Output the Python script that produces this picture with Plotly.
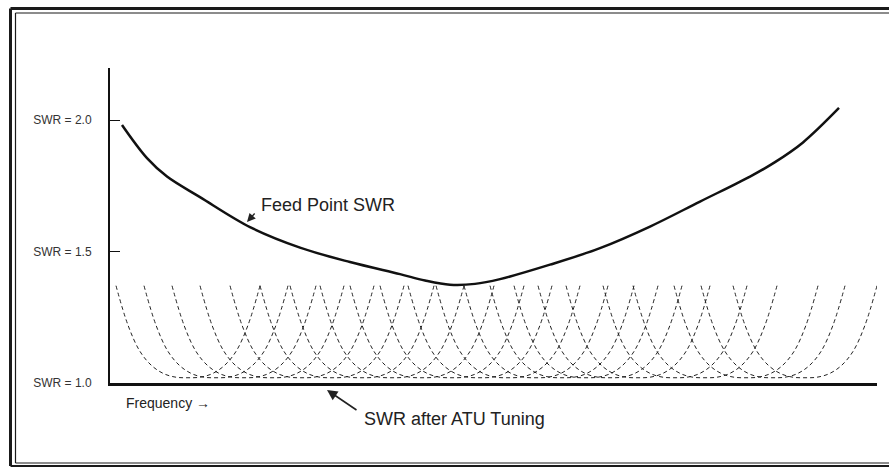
"""
SWR vs frequency: feed point curve and ATU-tuned dips.
"""

#%% IMPORTS

import plotly.graph_objects as go

#%% DATA

# feed point SWR (frequency in arbitrary units along the axis)
feed_freq = [12, 37, 57, 90, 140, 190, 240, 290, 315, 340, 365, 390, 440, 490, 540, 590, 640, 665, 693, 729]
feed_swr = [1.981, 1.855, 1.785, 1.707, 1.593, 1.515, 1.46, 1.414, 1.39, 1.374, 1.377, 1.395, 1.45, 1.513,
            1.595, 1.69, 1.785, 1.84, 1.915, 2.046]

# centres of each ATU-tuned dip
dip_centres = [78, 106, 134, 162, 192, 222, 252, 282, 312, 342, 370, 398,
               426, 452, 476, 500, 528, 565, 595, 636, 663, 695]

# one dip, as offset from its centre and SWR
dip_offset = [-72, -60, -48, -36, -24, -12, 0, 12, 24, 36, 48, 60, 72]
dip_swr = [1.37, 1.22, 1.12, 1.065, 1.035, 1.022, 1.02, 1.022, 1.035, 1.065, 1.12, 1.22, 1.37]

tick_vals = [1.0, 1.5, 2.0]
tick_text = ['SWR = 1.0', 'SWR = 1.5', 'SWR = 2.0']

FONT = 'Liberation Sans, Arial, sans-serif'

#%% PLOT

fig = go.Figure()

for c in dip_centres:
    fig.add_trace(go.Scatter(
        x=[c + o for o in dip_offset],
        y=dip_swr,
        mode='lines',
        line=dict(color='#222222', width=1, dash='4px,3px', shape='spline'),
        hoverinfo='skip',
        showlegend=False,
    ))

fig.add_trace(go.Scatter(
    x=feed_freq,
    y=feed_swr,
    mode='lines',
    line=dict(color='#111111', width=2.5, shape='spline', smoothing=1),
    hoverinfo='skip',
    showlegend=False,
))

# pixel -> paper helpers for frame and labels
def px(x):
    return (x - 110) / 767

def py(y):
    return (383 - y) / 315

frame = [
    # outer thick
    dict(x0=px(10.5), x1=px(10.5), y0=py(466), y1=py(8.5), w=3),
    dict(x0=px(10.5), x1=px(895), y0=py(8.5), y1=py(8.5), w=3),
    dict(x0=px(10.5), x1=px(895), y0=py(466), y1=py(466), w=2),
    # inner thin
    dict(x0=px(15.5), x1=px(15.5), y0=py(463), y1=py(13), w=1.2),
    dict(x0=px(15.5), x1=px(895), y0=py(13), y1=py(13), w=1.2),
    dict(x0=px(15.5), x1=px(895), y0=py(463), y1=py(463), w=1),
]
for f in frame:
    fig.add_shape(type='line', xref='paper', yref='paper',
                  x0=f['x0'], x1=f['x1'], y0=f['y0'], y1=f['y1'],
                  line=dict(color='#1a1a1a', width=f['w']))

# labels
fig.add_annotation(x=px(259), y=py(205), xref='paper', yref='paper', text='Feed Point SWR',
                   showarrow=False, xanchor='left', yanchor='middle',
                   font=dict(family=FONT, size=18, color='#222222'))
fig.add_annotation(x=px(247), y=py(222), xref='paper', yref='paper', ax=9, ay=-10,
                   text='', showarrow=True,
                   arrowhead=2, arrowsize=1.3, arrowwidth=1.3, arrowcolor='#222222')

fig.add_annotation(x=px(362), y=py(419), xref='paper', yref='paper', text='SWR after ATU Tuning',
                   showarrow=False, xanchor='left', yanchor='middle',
                   font=dict(family=FONT, size=18, color='#222222'))
fig.add_annotation(x=px(327), y=py(390), xref='paper', yref='paper', ax=31, ay=21,
                   text='', showarrow=True,
                   arrowhead=2, arrowsize=1.3, arrowwidth=1.6, arrowcolor='#222222')

fig.add_annotation(x=px(124), y=py(403), xref='paper', yref='paper', text='Frequency <b>→</b>',
                   showarrow=False, xanchor='left', yanchor='middle',
                   font=dict(family=FONT, size=14, color='#222222'))

fig.update_layout(
    width=889, height=468,
    margin=dict(l=110, r=12, t=68, b=85),
    paper_bgcolor='white',
    plot_bgcolor='white',
    showlegend=False,
    xaxis=dict(range=[0, 767], showline=True, linecolor='#111111', linewidth=3,
               showgrid=False, zeroline=False, showticklabels=False, ticks=''),
    yaxis=dict(range=[1.0, 2.198], showline=True, linecolor='#111111', linewidth=2,
               showgrid=False, zeroline=False, tickvals=tick_vals, ticktext=tick_text,
               ticks='inside', ticklen=10, tickwidth=1, tickcolor='#111111',
               ticklabelstandoff=14,
               tickfont=dict(family=FONT, size=12, color='#333333')),
)

fig.write_html("out.html", config={'displayModeBar': False},
               post_script="document.body.style.margin='0';")
